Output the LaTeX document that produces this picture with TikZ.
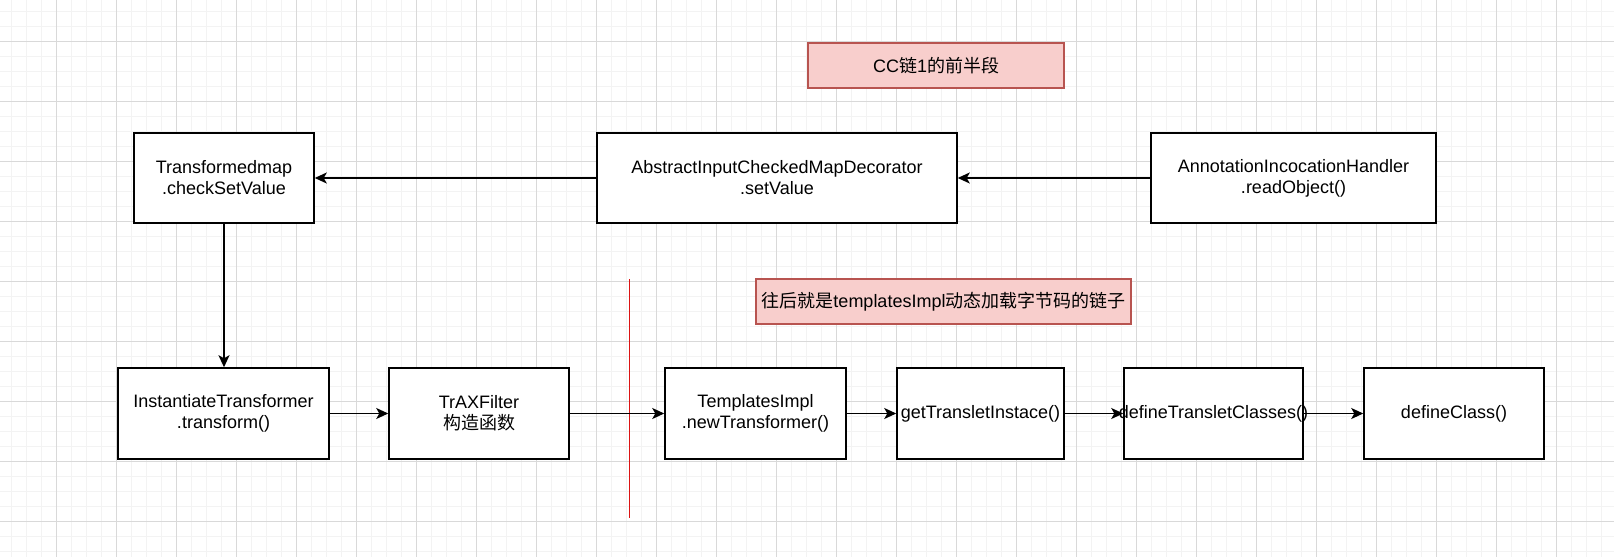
\documentclass[tikz,border=0pt]{standalone}
\usepackage{fontspec}
\setmainfont{Liberation Sans}
\newfontfamily\cjk{Noto Sans CJK SC}
\usetikzlibrary{arrows.meta}
\definecolor{notefill}{RGB}{248,206,204}
\definecolor{noteline}{RGB}{184,84,80}
\definecolor{sepred}{RGB}{220,20,20}
\definecolor{gridlight}{RGB}{243,243,243}
\definecolor{griddark}{RGB}{217,217,217}

\begin{document}
\begin{tikzpicture}[x=1pt,y=-1pt,
        >={Stealth[length=12pt,width=11pt,inset=3pt]},
        blk/.style={draw=black,line width=1.5pt,fill=white,inner sep=0pt,align=center,
            minimum height=90,font=\fontsize{18}{21}\selectfont},
        note/.style={draw=noteline,fill=notefill,line width=1.5pt,inner sep=0pt,
            minimum height=45,font=\fontsize{18}{21}\selectfont},
        conn/.style={line width=1.5pt,->},
        gridminor/.style={draw=gridlight,line width=1.5pt},
        gridmajor/.style={draw=griddark,line width=1pt}]
    \useasboundingbox (0,0) rectangle (1614,557);
    \fill[white] (0,0) rectangle (1614,557);
    % background grid
    \foreach \i in {0,...,107} \draw[gridminor] ({11.7+15*\i},0) -- ({11.7+15*\i},557);
    \foreach \i in {0,...,36} \draw[gridminor] (0,{11.7+15*\i}) -- (1614,{11.7+15*\i});
    \foreach \i in {0,...,25} \draw[gridmajor] ({56.7+60*\i},0) -- ({56.7+60*\i},557);
    \foreach \i in {0,...,8} \draw[gridmajor] (0,{41.7+60*\i}) -- (1614,{41.7+60*\i});

    \node[note,minimum width=256] (cc) at (936,65.5) {CC{\cjk 链}1{\cjk 的前半段}};
    \node[note,minimum width=375] (later) at (943.5,301.5) {{\cjk 往后就是}templatesImpl{\cjk 动态加载字节码的链子}};

    \node[blk,minimum width=180] (tmap) at (224,178) {Transformedmap\\.checkSetValue};
    \node[blk,minimum width=360] (absdec) at (777,178) {AbstractInputCheckedMapDecorator\\.setValue};
    \node[blk,minimum width=285] (annot) at (1293.5,178) {AnnotationIncocationHandler\\.readObject()};

    \node[blk,minimum width=211,minimum height=91] (inst) at (223.5,413.5) {InstantiateTransformer\\.transform()};
    \node[blk,minimum width=180,minimum height=91] (trax) at (479,413.5) {TrAXFilter\\{\cjk 构造函数}};
    \node[blk,minimum width=181,minimum height=91] (tpl) at (755.5,413.5) {TemplatesImpl\\.newTransformer()};
    \node[blk,minimum width=167,minimum height=91] (gettr) at (980.5,413.5) {getTransletInstace()};
    \node[blk,minimum width=179,minimum height=91] (deftr) at (1213.5,413.5) {\makebox[0pt]{defineTransletClasses()}};
    \node[blk,minimum width=180,minimum height=91] (defcls) at (1454,413.5) {defineClass()};

    % red separator
    \draw[sepred,line width=1pt] (629,279) -- (629,518);

    \draw[conn] (annot) -- (absdec);
    \draw[conn] (absdec) -- (tmap);
    \draw[conn] (tmap.south) -- (tmap.south |- inst.north);
    \draw[conn] (inst) -- (trax);
    \draw[conn] (trax) -- (tpl);
    \draw[conn] (tpl) -- (gettr);
    \draw[conn] (gettr) -- (deftr);
    \draw[conn] (deftr) -- (defcls);
\end{tikzpicture}
\end{document}
